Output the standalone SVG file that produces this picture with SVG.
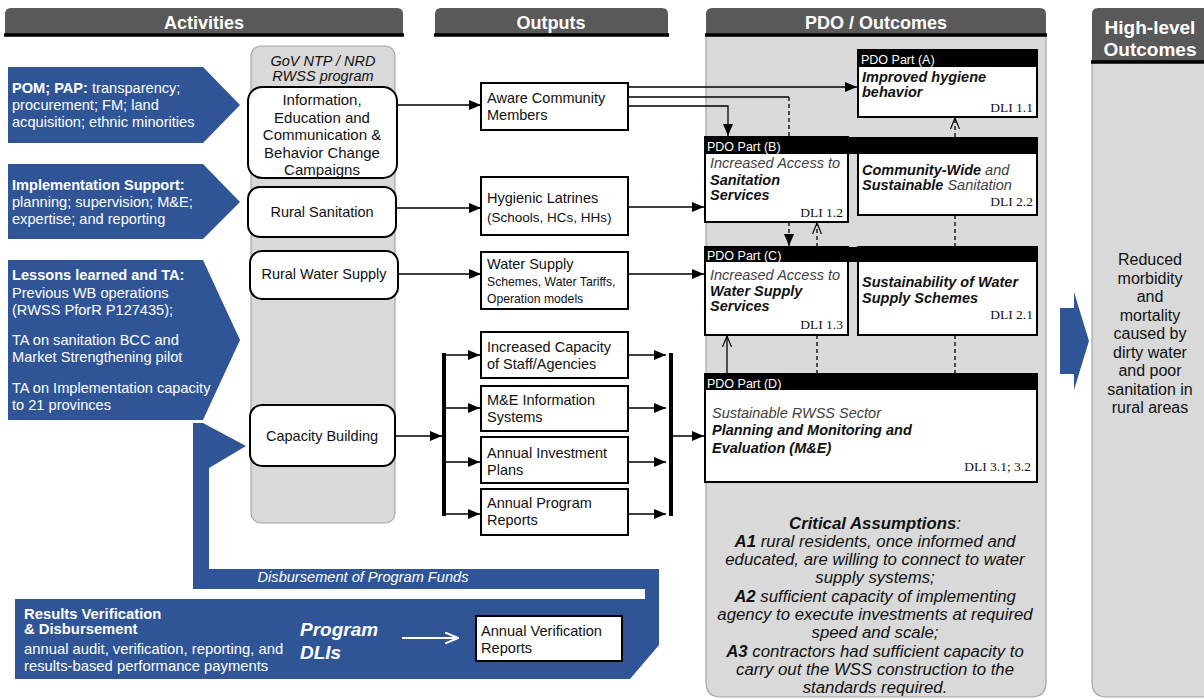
<svg xmlns="http://www.w3.org/2000/svg" width="1204" height="700" viewBox="0 0 1204 700">
<defs>
<style>
text{font-family:"Liberation Sans",Arial,sans-serif}
.hdr{fill:#595959}
.hl{stroke:#000;stroke-width:3.5}
.ht{font-weight:bold;font-size:18px;fill:#fff;text-anchor:middle}
.panel{fill:#d9d9d9;stroke:#a6a6a6;stroke-width:1.2}
.blue{fill:#2f5597}
.bt{fill:#fff;font-size:14.6px}
.oval{fill:#fff;stroke:#000;stroke-width:2}
.box{fill:#fff;stroke:#000;stroke-width:2}
.t{font-size:14.5px;fill:#111}
.s{font-size:12.2px;fill:#111}
.c{text-anchor:middle}
.ln{stroke:#000;stroke-width:1.3;fill:none}
.dash{stroke-dasharray:4 3}
.thick{stroke:#000;stroke-width:4}
.ph{fill:#000}
.pt{fill:#fff;font-size:12.5px}
.dli{font-family:"Liberation Serif","Times New Roman",serif;font-size:13.5px;text-anchor:end;fill:#111}
.it{font-style:italic}
.b{font-weight:bold}
.g{fill:#404040}
.ca{font-size:16.8px;font-style:italic;fill:#111;text-anchor:middle}
</style>
<marker id="ah" viewBox="0 0 12 10" refX="12" refY="5" markerWidth="12" markerHeight="10" markerUnits="userSpaceOnUse" orient="auto"><path d="M0,0 L12,5 L0,10 Z" fill="#000"/></marker>
<marker id="oa" viewBox="0 0 12 10" refX="11" refY="5" markerWidth="12" markerHeight="10" markerUnits="userSpaceOnUse" orient="auto"><path d="M0,0.5 L11,5 L0,9.5" fill="none" stroke="#000" stroke-width="1.2"/></marker>
<marker id="wa" viewBox="0 0 14 12" refX="13" refY="6" markerWidth="14" markerHeight="12" markerUnits="userSpaceOnUse" orient="auto"><path d="M0,0.5 L13,6 L0,11.5" fill="none" stroke="#fff" stroke-width="2"/></marker>
</defs>

<g id="headers">
<path class="hdr" d="M5,34 V14 Q5,8 11,8 H397 Q403,8 403,14 V34 Z"/>
<line class="hl" x1="4" y1="35" x2="404" y2="35"/>
<text class="ht" x="204" y="29">Activities</text>
<path class="hdr" d="M435,34 V14 Q435,8 441,8 H662 Q668,8 668,14 V34 Z"/>
<line class="hl" x1="434" y1="35" x2="669" y2="35"/>
<text class="ht" x="551" y="29">Outputs</text>
<path class="hdr" d="M706,34 V14 Q706,8 712,8 H1040 Q1046,8 1046,14 V34 Z"/>
<text class="ht" x="876" y="29">PDO / Outcomes</text>
<path class="hdr" d="M1092,61 V14 Q1092,8 1098,8 H1210 V61 Z"/>
<text class="ht" x="1150" y="34" style="font-size:19px">High-level</text>
<text class="ht" x="1150" y="56" style="font-size:19px">Outcomes</text>
</g>

<g id="pdo-panel">
<path class="panel" d="M706,36 H1046 V682 Q1046,697 1031,697 H721 Q706,697 706,682 Z"/>
<line class="hl" x1="705" y1="35" x2="1047" y2="35"/>
</g>

<g id="highlevel">
<path class="panel" d="M1092,62 H1210 V697 H1107 Q1092,697 1092,682 Z"/>
<line class="hl" x1="1091" y1="62" x2="1204" y2="62"/>
<text class="t c" style="font-size:16px"><tspan x="1150" y="265">Reduced</tspan><tspan x="1150" y="283.5">morbidity</tspan><tspan x="1150" y="302">and</tspan><tspan x="1150" y="320.5">mortality</tspan><tspan x="1150" y="339">caused by</tspan><tspan x="1150" y="357.5">dirty water</tspan><tspan x="1150" y="376">and poor</tspan><tspan x="1150" y="394.5">sanitation in</tspan><tspan x="1150" y="413">rural areas</tspan></text>
</g>

<g id="big-arrow">
<polygon class="blue" points="1060,308 1074,308 1074,292 1089,341 1074,390 1074,374 1060,374"/>
</g>

<g id="act-pom">
<polygon class="blue" points="8,67 203,67 240,105 203,143 8,143"/>
<text class="bt"><tspan x="12" y="93"><tspan class="b">POM; PAP:</tspan> transparency;</tspan><tspan x="12" y="110">procurement; FM; land</tspan><tspan x="12" y="127">acquisition; ethnic minorities</tspan></text>
</g>
<g id="act-impl">
<polygon class="blue" points="8,164 203,164 240,202 203,239 8,239"/>
<text class="bt"><tspan x="12" y="190" class="b">Implementation Support:</tspan><tspan x="12" y="207">planning; supervision; M&amp;E;</tspan><tspan x="12" y="224">expertise; and reporting</tspan></text>
</g>
<g id="act-lessons">
<polygon class="blue" points="8,260 203,260 240,340 203,420 8,420"/>
<text class="bt"><tspan x="12" y="280" class="b">Lessons learned and TA:</tspan><tspan x="12" y="298">Previous WB operations</tspan><tspan x="12" y="315">(RWSS PforR P127435);</tspan><tspan x="12" y="345">TA on sanitation BCC and</tspan><tspan x="12" y="362">Market Strengthening pilot</tspan><tspan x="12" y="393">TA on Implementation capacity</tspan><tspan x="12" y="410">to 21 provinces</tspan></text>
</g>

<g id="disbursement">
<polygon class="blue" points="193,423 203,423 246,446 209,468 209,569 659,569 659,645 630,679 15,679 15,599 645,599 645,589 193,589"/>
<text class="bt it c" x="363" y="582">Disbursement of Program Funds</text>
<text class="bt"><tspan x="24" y="619" class="b" style="font-size:14.8px">Results Verification</tspan><tspan x="24" y="634" class="b" style="font-size:14.8px">&amp; Disbursement</tspan><tspan x="24" y="654" style="font-size:14.8px">annual audit, verification, reporting, and</tspan><tspan x="24" y="671" style="font-size:14.8px">results-based performance payments</tspan></text>
<text class="bt b it" style="font-size:19px"><tspan x="300" y="636">Program</tspan><tspan x="300" y="659">DLIs</tspan></text>
<line x1="402" y1="638" x2="458" y2="638" stroke="#fff" stroke-width="2" marker-end="url(#wa)"/>
</g>
<g id="verif-reports">
<rect class="box" x="476" y="616" width="146" height="45"/>
<text class="t" style="font-size:14.6px"><tspan x="481" y="636">Annual Verification</tspan><tspan x="481" y="653">Reports</tspan></text>
</g>

<g id="gov-program">
<rect class="panel" x="251" y="46" width="144" height="477" rx="10"/>
<text class="t it c"><tspan x="323" y="66">GoV NTP / NRD</tspan><tspan x="323" y="81">RWSS program</tspan></text>
</g>
<g id="iec">
<rect class="oval" x="248" y="87" width="149" height="91" rx="14"/>
<text class="t c" style="font-size:15px"><tspan x="322" y="105">Information,</tspan><tspan x="322" y="122.5">Education and</tspan><tspan x="322" y="140">Communication &amp;</tspan><tspan x="322" y="157.5">Behavior Change</tspan><tspan x="322" y="175">Campaigns</tspan></text>
</g>
<g id="rural-sanitation">
<rect class="oval" x="248" y="187" width="148" height="50" rx="12"/>
<text class="t c" x="322" y="217">Rural Sanitation</text>
</g>
<g id="rural-water">
<rect class="oval" x="250" y="251" width="148" height="48" rx="12"/>
<text class="t c" x="324" y="279">Rural Water Supply</text>
</g>
<g id="capacity-building">
<rect class="oval" x="250" y="405" width="145" height="61" rx="12"/>
<text class="t c" x="322" y="441">Capacity Building</text>
</g>

<g id="out-aware">
<rect class="box" x="481" y="83" width="147" height="47"/>
<text class="t"><tspan x="487" y="103">Aware Community</tspan><tspan x="487" y="120">Members</tspan></text>
</g>
<g id="out-latrines">
<rect class="box" x="481" y="177" width="147" height="58"/>
<text class="t"><tspan x="487" y="203">Hygienic Latrines</tspan><tspan x="487" y="222" style="font-size:13.5px">(Schools, HCs, HHs)</tspan></text>
</g>
<g id="out-water">
<rect class="box" x="481" y="252" width="147" height="57"/>
<text class="t"><tspan x="487" y="269">Water Supply</tspan><tspan x="487" y="286" class="s">Schemes, Water Tariffs,</tspan><tspan x="487" y="303" class="s">Operation models</tspan></text>
</g>
<g id="out-capacity">
<rect class="box" x="481" y="332" width="147" height="46"/>
<text class="t"><tspan x="487" y="352">Increased Capacity</tspan><tspan x="487" y="369">of Staff/Agencies</tspan></text>
</g>
<g id="out-me">
<rect class="box" x="481" y="386" width="147" height="45"/>
<text class="t"><tspan x="487" y="405">M&amp;E Information</tspan><tspan x="487" y="422">Systems</tspan></text>
</g>
<g id="out-investment">
<rect class="box" x="481" y="437" width="147" height="46"/>
<text class="t"><tspan x="487" y="458">Annual Investment</tspan><tspan x="487" y="475">Plans</tspan></text>
</g>
<g id="out-reports">
<rect class="box" x="481" y="489" width="147" height="46"/>
<text class="t"><tspan x="487" y="508">Annual Program</tspan><tspan x="487" y="525">Reports</tspan></text>
</g>

<g id="pdo-a">
<rect class="box" x="858" y="50" width="179" height="67"/>
<rect class="ph" x="858" y="50" width="179" height="17"/>
<text class="pt" x="861" y="64">PDO Part (A)</text>
<text class="t b it"><tspan x="862" y="82">Improved hygiene</tspan><tspan x="862" y="97">behavior</tspan></text>
<text class="dli" x="1033" y="112">DLI 1.1</text>
</g>
<g id="pdo-b">
<rect class="box" x="705" y="137" width="143" height="85"/>
<rect class="box" x="858" y="150" width="179" height="65"/>
<rect class="ph" x="704" y="137" width="334" height="17"/>
<text class="pt" x="707" y="150.5">PDO Part (B)</text>
<text class="t it"><tspan x="710" y="168" class="g">Increased Access to</tspan><tspan x="710" y="185" class="b">Sanitation</tspan><tspan x="710" y="200" class="b">Services</tspan></text>
<text class="dli" x="843" y="217">DLI 1.2</text>
<text class="t it"><tspan x="862" y="175"><tspan class="b">Community-Wide</tspan><tspan class="g"> and</tspan></tspan><tspan x="862" y="190"><tspan class="b">Sustainable</tspan><tspan class="g"> Sanitation</tspan></tspan></text>
<text class="dli" x="1033" y="206">DLI 2.2</text>
</g>
<g id="pdo-c">
<rect class="box" x="705" y="247" width="143" height="88"/>
<rect class="box" x="858" y="247" width="179" height="88"/>
<rect class="ph" x="704" y="247" width="334" height="15"/>
<text class="pt" x="707" y="259.5">PDO Part (C)</text>
<text class="t it"><tspan x="710" y="280" class="g">Increased Access to</tspan><tspan x="710" y="296" class="b">Water Supply</tspan><tspan x="710" y="311" class="b">Services</tspan></text>
<text class="dli" x="843" y="329">DLI 1.3</text>
<text class="t it b"><tspan x="862" y="287">Sustainability of Water</tspan><tspan x="862" y="303">Supply Schemes</tspan></text>
<text class="dli" x="1033" y="319">DLI 2.1</text>
</g>
<g id="pdo-d">
<rect class="box" x="705" y="374" width="332" height="108"/>
<rect class="ph" x="704" y="374" width="334" height="16"/>
<text class="pt" x="707" y="388">PDO Part (D)</text>
<text class="t it"><tspan x="712" y="418" class="g">Sustainable RWSS Sector</tspan><tspan x="712" y="435" class="b">Planning and Monitoring and</tspan><tspan x="712" y="453" class="b">Evaluation (M&amp;E)</tspan></text>
<text class="dli" x="1031" y="471">DLI 3.1; 3.2</text>
</g>

<g id="assumptions">
<text class="ca"><tspan x="875" y="528.5"><tspan class="b">Critical Assumptions</tspan>:</tspan><tspan x="875" y="546.5"><tspan class="b">A1</tspan> rural residents, once informed and</tspan><tspan x="875" y="565">educated, are willing to connect to water</tspan><tspan x="875" y="583">supply systems;</tspan><tspan x="875" y="601.5"><tspan class="b">A2</tspan> sufficient capacity of implementing</tspan><tspan x="875" y="619.5">agency to execute investments at required</tspan><tspan x="875" y="638">speed and scale;</tspan><tspan x="875" y="656.5"><tspan class="b">A3</tspan> contractors had sufficient capacity to</tspan><tspan x="875" y="674.5">carry out the WSS construction to the</tspan><tspan x="875" y="692.5">standards required.</tspan></text>
</g>

<g id="connectors">
<line class="ln" x1="397" y1="105" x2="481" y2="105" marker-end="url(#ah)"/>
<line class="ln" x1="396" y1="208" x2="481" y2="208" marker-end="url(#ah)"/>
<line class="ln" x1="398" y1="274" x2="481" y2="274" marker-end="url(#ah)"/>
<line class="ln" x1="395" y1="436" x2="442" y2="436" marker-end="url(#ah)"/>
<line class="thick" x1="444" y1="353" x2="444" y2="516"/>
<line class="ln" x1="444" y1="355" x2="480" y2="355" marker-end="url(#ah)"/>
<line class="ln" x1="444" y1="408" x2="480" y2="408" marker-end="url(#ah)"/>
<line class="ln" x1="444" y1="462" x2="480" y2="462" marker-end="url(#ah)"/>
<line class="ln" x1="444" y1="514" x2="480" y2="514" marker-end="url(#ah)"/>
<line class="ln" x1="628" y1="355" x2="666" y2="355" marker-end="url(#ah)"/>
<line class="ln" x1="628" y1="408" x2="666" y2="408" marker-end="url(#ah)"/>
<line class="ln" x1="628" y1="462" x2="666" y2="462" marker-end="url(#ah)"/>
<line class="ln" x1="628" y1="514" x2="666" y2="514" marker-end="url(#ah)"/>
<line class="thick" x1="671" y1="353" x2="671" y2="516"/>
<line class="ln" x1="671" y1="436" x2="704" y2="436" marker-end="url(#ah)"/>
<line class="ln" x1="628" y1="207" x2="704" y2="207" marker-end="url(#ah)"/>
<line class="ln" x1="628" y1="274" x2="704" y2="274" marker-end="url(#ah)"/>
<line class="ln" x1="628" y1="87" x2="857" y2="87" marker-end="url(#ah)"/>
<line class="ln" x1="628" y1="97" x2="789" y2="97"/>
<line class="ln dash" x1="789" y1="97" x2="789" y2="137"/>
<polyline class="ln" points="628,106 728,106 728,136" marker-end="url(#ah)"/>
<line class="ln dash" x1="955" y1="137" x2="955" y2="118" marker-end="url(#oa)"/>
<line class="ln dash" x1="789" y1="222" x2="789" y2="246" marker-end="url(#ah)"/>
<line class="ln dash" x1="817" y1="247" x2="817" y2="223" marker-end="url(#oa)"/>
<line class="ln dash" x1="955" y1="215" x2="955" y2="247"/>
<line class="ln" x1="727" y1="374" x2="727" y2="336" marker-end="url(#oa)"/>
<line class="ln dash" x1="817" y1="335" x2="817" y2="374"/>
<line class="ln dash" x1="955" y1="335" x2="955" y2="374"/>
</g>
</svg>
